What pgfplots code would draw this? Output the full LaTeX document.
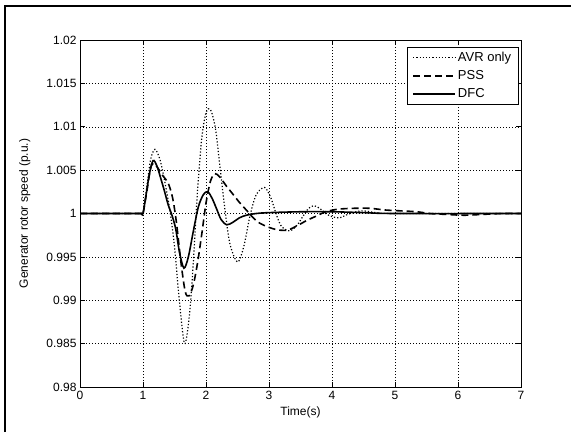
\documentclass[border=0pt]{standalone}
\usepackage{fontspec}
\setmainfont{Liberation Sans}
\usepackage{pgfplots}
\pgfplotsset{compat=1.18}

\newcommand{\lbl}{\fontsize{12}{14}\selectfont}
\newcommand{\leg}{\fontsize{13}{15}\selectfont}

\begin{document}
\begin{tikzpicture}[x=1pt,y=1pt]
  \path[use as bounding box] (0,0) rectangle (571,432);
  % frame edges visible in the screenshot (top and left only)
  \draw[line width=2.4pt] (5,0) -- (5,426) -- (571,426);

  \begin{axis}[
    at={(80pt,45pt)}, anchor=south west,
    scale only axis,
    width=441pt, height=347pt,
    xmin=0, xmax=7, ymin=0.98, ymax=1.02,
    xtick={0,1,...,7},
    xticklabels={0,1,2,3,4,5,6,7},
    ytick={0.98,0.985,0.99,0.995,1,1.005,1.01,1.015,1.02},
    yticklabels={0.98,0.985,0.99,0.995,1,1.005,1.01,1.015,1.02},
    tick align=inside,
    xtick pos=both, ytick pos=both,
    xticklabel pos=lower, yticklabel pos=left,
    major tick length=5pt,
    tick style={black, line width=0.6pt},
    axis line style={line width=0.7pt},
    grid=major,
    grid style={black, line width=0.5pt, dash pattern=on 0.6pt off 2.4pt},
    ticklabel style={font=\lbl},
    xticklabel style={yshift=-1pt},
    xlabel={Time(s)},
    ylabel={Generator rotor speed (p.u.)},
    every axis x label/.style={at={(axis description cs:0.5,-0.072)}, anchor=center, font=\lbl},
    every axis y label/.style={at={(axis description cs:-0.125,0.5)}, rotate=90, anchor=center, font=\lbl},
    legend style={at={(0.994,0.98)}, anchor=north east, font=\leg,
      draw=black, inner xsep=5pt, inner ysep=3pt, row sep=3.5pt,
      legend cell align=left},
    legend image code/.code={\draw[#1] (0pt,0pt) -- (42pt,0pt);},
  ]
  % AVR only
  \addplot[black, line width=1.2pt, dash pattern=on 1.2pt off 2pt, smooth, tension=0.5] coordinates {
    (0,1) (0.9,1) (0.97,1) (1,1) (1.06,1.003) (1.12,1.0062) (1.19,1.0074) (1.27,1.0062)
    (1.35,1.0035) (1.43,1.0002) (1.5,0.9962) (1.57,0.9905) (1.66,0.9850)
    (1.74,0.9885) (1.8,0.9945) (1.86,1.0020) (1.93,1.0085) (2.0,1.0116)
    (2.07,1.0120) (2.15,1.0098) (2.22,1.0055) (2.3,1.0005) (2.38,0.9965)
    (2.5,0.9944) (2.6,0.9962) (2.7,0.9998) (2.8,1.0022) (2.93,1.0030)
    (3.03,1.0018) (3.12,0.9998) (3.2,0.9985) (3.33,0.9980) (3.45,0.9987)
    (3.55,0.9998) (3.63,1.0006) (3.72,1.0009) (3.82,1.0005) (3.92,0.9999)
    (4.02,0.9996) (4.12,0.9995) (4.25,0.9999) (4.38,1.0002) (4.5,1.0003)
    (4.7,1.0001) (5,1.0) (7,1.0)
  };
  \addlegendentry{AVR only\hspace{8pt}}
  % PSS
  \addplot[black, line width=1.6pt, dash pattern=on 7pt off 4pt, smooth, tension=0.5] coordinates {
    (0,1) (0.9,1) (0.97,1) (1,1) (1.06,1.0025) (1.12,1.0052) (1.17,1.0058) (1.24,1.0052)
    (1.32,1.0043) (1.4,1.0035) (1.47,1.0018) (1.53,0.9990) (1.6,0.9945)
    (1.67,0.9910) (1.73,0.9905) (1.8,0.9918) (1.87,0.9945) (1.94,0.9980)
    (2.0,1.0012) (2.07,1.0037) (2.14,1.0046) (2.22,1.0042) (2.32,1.0032)
    (2.43,1.0022) (2.54,1.0012) (2.64,1.0004) (2.75,0.9995) (2.85,0.9989)
    (3.0,0.9984) (3.15,0.9981) (3.3,0.9981) (3.45,0.9986) (3.6,0.9992)
    (3.75,0.9997) (3.9,1.0002) (4.1,1.0005) (4.35,1.0006) (4.6,1.0006)
    (4.85,1.0004) (5.1,1.0003) (5.35,1.0002) (5.55,1.0) (5.8,0.9999)
    (6.1,0.9998) (6.4,0.9999) (6.7,1.0) (7,1.0)
  };
  \addlegendentry{PSS}
  % DFC
  \addplot[black, line width=1.6pt, smooth, tension=0.5] coordinates {
    (0,1) (0.9,1) (0.97,1) (1,1) (1.05,1.0022) (1.1,1.0045) (1.16,1.0061) (1.22,1.0055)
    (1.28,1.0041) (1.34,1.0026) (1.4,1.0010) (1.46,0.9998) (1.52,0.9982)
    (1.58,0.9955) (1.65,0.9937) (1.72,0.9950) (1.8,0.9980) (1.88,1.0008)
    (1.96,1.0022) (2.03,1.0025) (2.1,1.0017) (2.17,1.0005) (2.24,0.9993)
    (2.33,0.9987) (2.43,0.9990) (2.53,0.9995) (2.64,0.9998) (2.8,1.0)
    (3.0,1.0001) (3.5,1.0002) (4.0,1.0002) (4.5,1.0001) (5,1.0) (7,1.0)
  };
  \addlegendentry{DFC}
  \end{axis}
\end{tikzpicture}
\end{document}
